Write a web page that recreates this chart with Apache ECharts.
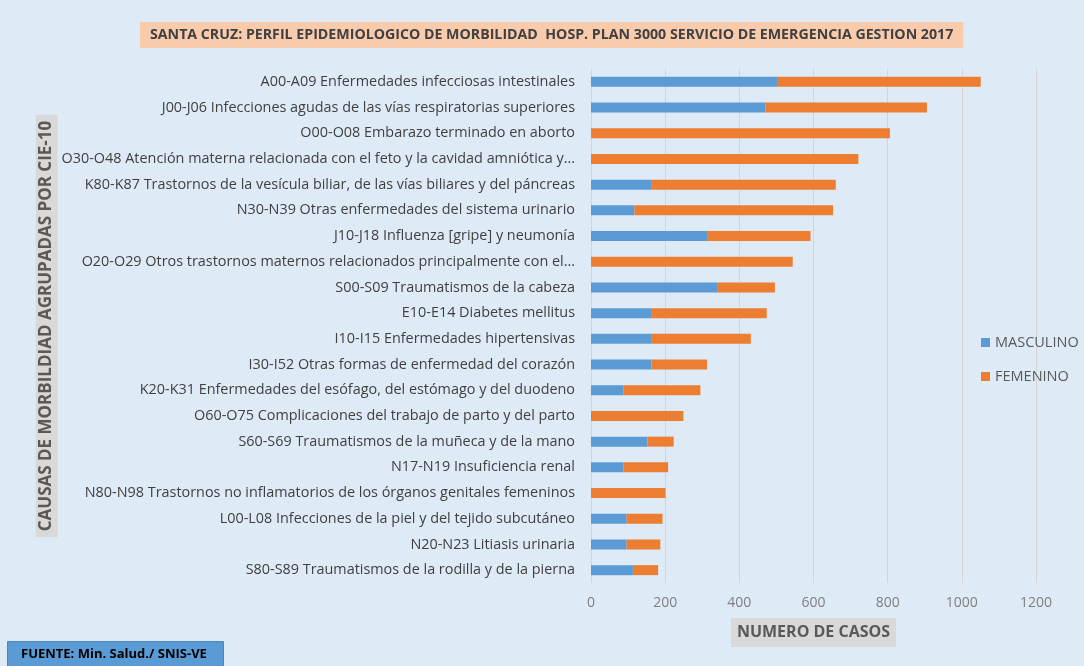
<!DOCTYPE html>
<html>
<head>
<meta charset="utf-8">
<script src="https://cdn.jsdelivr.net/npm/echarts@6/dist/echarts.min.js"></script>
<style>
  html, body { margin: 0; padding: 0; background: #deebf7; }
  #chart { width: 1084px; height: 666px; }
</style>
</head>
<body>
<div id="chart"></div>
<script>
// causas (de mayor a menor)
var causas = [
    'A00-A09 Enfermedades infecciosas intestinales',
    'J00-J06 Infecciones agudas de las vías respiratorias superiores',
    'O00-O08 Embarazo terminado en aborto',
    'O30-O48 Atención materna relacionada con el feto y la cavidad amniótica y...',
    'K80-K87 Trastornos de la vesícula biliar, de las vías biliares y del páncreas',
    'N30-N39 Otras enfermedades del sistema urinario',
    'J10-J18 Influenza [gripe] y neumonía',
    'O20-O29 Otros trastornos maternos relacionados principalmente con el...',
    'S00-S09 Traumatismos de la cabeza',
    'E10-E14 Diabetes mellitus',
    'I10-I15 Enfermedades hipertensivas',
    'I30-I52 Otras formas de enfermedad del corazón',
    'K20-K31 Enfermedades del esófago, del estómago y del duodeno',
    'O60-O75 Complicaciones del trabajo de parto y del parto',
    'S60-S69 Traumatismos de la muñeca y de la mano',
    'N17-N19 Insuficiencia renal',
    'N80-N98 Trastornos no inflamatorios de los órganos genitales femeninos',
    'L00-L08 Infecciones de la piel y del tejido subcutáneo',
    'N20-N23 Litiasis urinaria',
    'S80-S89 Traumatismos de la rodilla y de la pierna'
];
var masculino = [504, 470, 0, 0, 162, 117, 315, 0, 342, 162, 162, 163, 87, 0, 152, 87, 0, 96, 96, 113];
var femenino  = [547, 436, 806, 721, 498, 536, 277, 544, 154, 312, 269, 150, 208, 249, 71, 121, 201, 97, 91, 68];
var xTicks = [0, 1200, 200]; // min, max, intervalo

var myChart = echarts.init(document.getElementById('chart'));
var option = {
    backgroundColor: '#deebf7',
    textStyle: { fontFamily: 'Open Sans' },
    title: {
        text: 'SANTA CRUZ: PERFIL EPIDEMIOLOGICO DE MORBILIDAD  HOSP. PLAN 3000 SERVICIO DE EMERGENCIA GESTION 2017',
        left: 140,
        top: 22,
        backgroundColor: '#f8cbad',
        padding: [6, 10, 6, 10],
        textStyle: {
            color: '#404040',
            fontWeight: 'bold',
            fontSize: 14.2,
            fontFamily: 'Open Sans'
        }
    },
    legend: {
        orient: 'vertical',
        left: 976,
        top: 330,
        itemGap: 19,
        itemWidth: 9,
        itemHeight: 9,
        icon: 'rect',
        data: ['MASCULINO', 'FEMENINO'],
        textStyle: { color: '#595959', fontSize: 14.5 }
    },
    grid: {
        left: 591,
        top: 69,
        right: 48,
        bottom: 83,
        containLabel: false
    },
    xAxis: {
        type: 'value',
        min: xTicks[0],
        max: xTicks[1],
        interval: xTicks[2],
        name: 'NUMERO DE CASOS',
        nameLocation: 'middle',
        nameGap: 35,
        nameTextStyle: {
            color: '#595959',
            fontWeight: 'bold',
            fontSize: 16,
            backgroundColor: '#d9d9d9',
            padding: [6, 6, 7, 6]
        },
        axisLine: { show: false },
        axisTick: { show: false },
        axisLabel: {
            color: '#7f7f7f',
            fontSize: 14,
            margin: 13,
            formatter: function (v) { return String(v); }
        },
        splitLine: { lineStyle: { color: '#d4d4d4', width: 1 } }
    },
    yAxis: {
        type: 'category',
        inverse: true,
        data: causas,
        name: 'CAUSAS DE MORBILDIAD AGRUPADAS POR CIE-10',
        nameLocation: 'middle',
        nameRotate: 90,
        nameGap: 529,
        nameTextStyle: {
            color: '#595959',
            fontWeight: 'bold',
            fontSize: 17,
            backgroundColor: '#d9d9d9',
            padding: [2, 6, 3, 6]
        },
        axisLine: { show: false },
        axisTick: { show: false },
        axisLabel: { color: '#404040', fontSize: 14.4, margin: 16 }
    },
    graphic: [
        {
            type: 'rect',
            left: 7,
            top: 641,
            shape: { width: 216, height: 30 },
            style: { fill: '#5b9bd5', stroke: '#4a86c0', lineWidth: 1 }
        },
        {
            type: 'text',
            left: 21,
            top: 648,
            style: {
                text: 'FUENTE: Min. Salud./ SNIS-VE',
                fill: '#000000',
                font: 'bold 13px "Open Sans"'
            }
        }
    ],
    series: [
        {
            name: 'MASCULINO',
            type: 'bar',
            stack: 'total',
            barWidth: 10,
            data: masculino,
            itemStyle: { color: '#5b9bd5' }
        },
        {
            name: 'FEMENINO',
            type: 'bar',
            stack: 'total',
            barWidth: 10,
            data: femenino,
            itemStyle: { color: '#ed7d31' }
        }
    ]
};
myChart.setOption(option);
</script>
</body>
</html>
